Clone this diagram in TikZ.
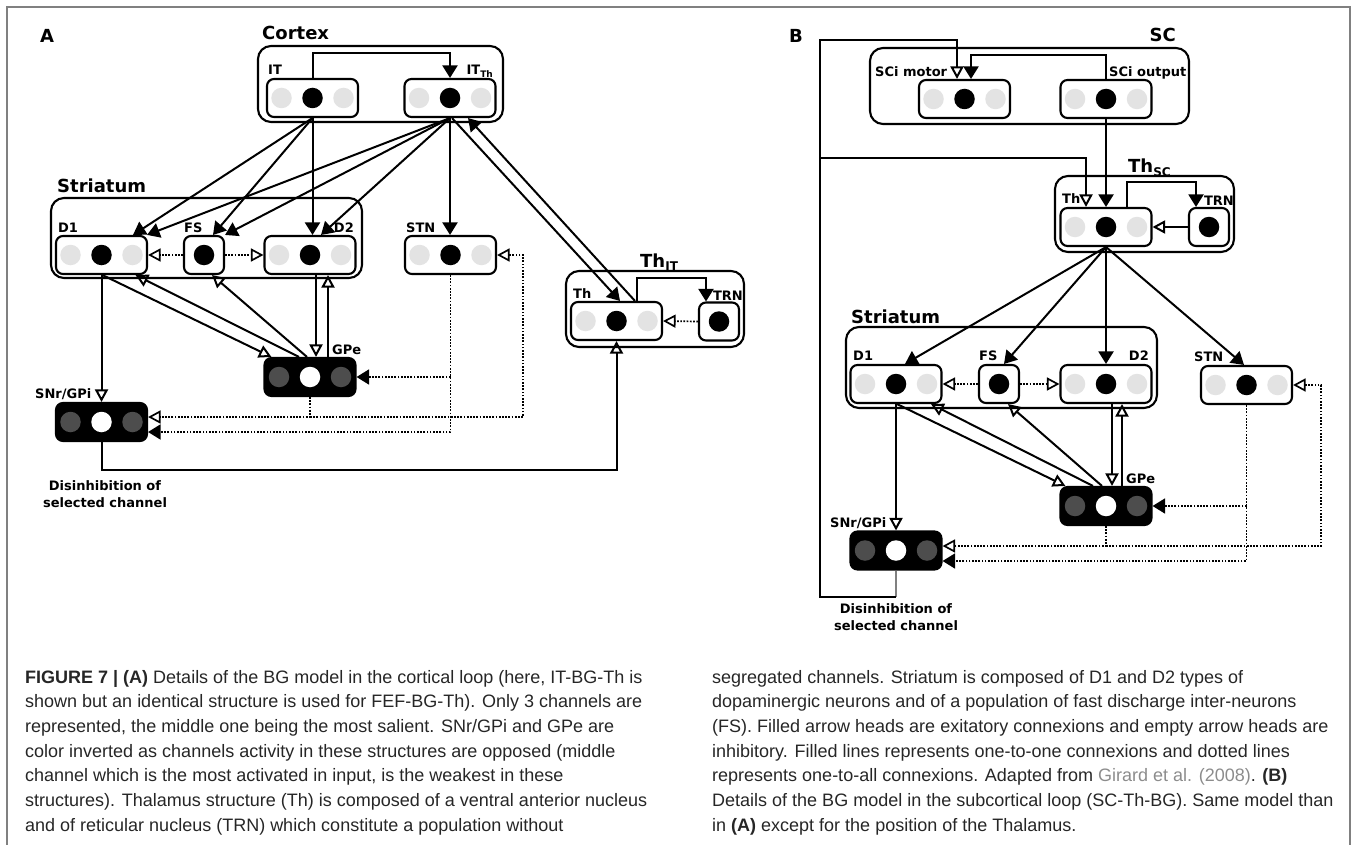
\documentclass[tikz,border=0pt]{standalone}
\usepackage{fontspec}
\setmainfont{Liberation Sans}
\newfontfamily\djfont{DejaVu Sans}
\usetikzlibrary{arrows.meta,calc}
\definecolor{lg}{HTML}{E3E3E3}
\definecolor{dg}{HTML}{4D4D4D}
\definecolor{captxt}{HTML}{262626}
\definecolor{lnk}{HTML}{8C8C8C}
\definecolor{frm}{HTML}{808080}
\newcommand\mkchans[4]{%
  \node[#2] (#1a) at ($(#1)+(-31,0)$) {};
  \node[#3] (#1b) at (#1) {};
  \node[#4] (#1c) at ($(#1)+(31,0)$) {};}
\tikzset{
  lab/.style={font=\djfont\bfseries\fontsize{13}{13}\selectfont, inner sep=0, anchor=base west},
  big/.style={font=\djfont\bfseries\fontsize{18}{18}\selectfont, inner sep=0, anchor=base west},
  grp/.style={draw, line width=2.1, rounded corners=13, inner sep=0},
  chbox/.style={draw, line width=2.1, rounded corners=7, fill=white, minimum height=38, minimum width=91, inner sep=0},
  selbox/.style={chbox, minimum width=40},
  invbox/.style={chbox, fill=black},
  lc/.style={circle, fill=lg, minimum size=20.5, inner sep=0},
  bc/.style={circle, fill=black, minimum size=20.5, inner sep=0},
  dc/.style={circle, fill=dg, minimum size=20.5, inner sep=0},
  wc/.style={circle, fill=white, minimum size=20.5, inner sep=0},
  conn/.style={line width=2},
  exc/.style={conn, -{Triangle[length=12.5,width=15]}},
  inh/.style={conn, -{Triangle[open,length=12.5,width=13]}},
  dots/.style={line width=1.7, dash pattern=on 1.7 off 1.5},
  captext/.style={font=\fontsize{18}{18}\selectfont, text=captxt, inner sep=0, anchor=base west},
}
\begin{document}
\begin{tikzpicture}[x=1pt,y=-1pt]
\useasboundingbox (0,0) rectangle (1356,845);
\draw[frm, line width=1.5] (7,845) -- (7,7) -- (1350,7) -- (1350,845);

% ================= Panel A =================
\node[big] (labA) at (40,43) {A};
\node[grp, minimum width=245, minimum height=76] (cortex) at (380.5,84) {};
\node[big] (cortexL) at (262,40) {Cortex};
\node[chbox] (IT) at (312.5,98) {};
\mkchans{IT}{lc}{bc}{lc}
\node[lab] (ITL) at (268,75) {IT};
\node[chbox] (ITTh) at (450,98) {};
\mkchans{ITTh}{lc}{bc}{lc}
\node[lab, anchor=base east] (ITThL) at (493,75) {IT{\fontsize{9}{9}\selectfont\raisebox{-2.5pt}{Th}}};

\node[grp, minimum width=311, minimum height=80] (striA) at (206.5,238) {};
\node[big] (striAL) at (57,193) {Striatum};
\node[chbox] (D1A) at (101.5,255) {};
\mkchans{D1A}{lc}{bc}{lc}
\node[lab] (D1AL) at (58,232) {D1};
\node[selbox] (FSA) at (204,255) {};
\node[bc] (FSAb) at (FSA) {};
\node[lab] (FSAL) at (184,232) {FS};
\node[chbox] (D2A) at (310,255) {};
\mkchans{D2A}{lc}{bc}{lc}
\node[lab, anchor=base east] (D2AL) at (354,232) {D2};
\node[chbox] (STNA) at (450.5,255) {};
\mkchans{STNA}{lc}{bc}{lc}
\node[lab] (STNAL) at (406,232) {STN};

\node[invbox] (GPeA) at (310,377) {};
\mkchans{GPeA}{dc}{wc}{dc}
\node[lab] (GPeAL) at (332,354) {GPe};
\node[invbox] (SNrA) at (101.5,422) {};
\mkchans{SNrA}{dc}{wc}{dc}
\node[lab] (SNrAL) at (35,398) {SNr/GPi};

\node[grp, minimum width=178, minimum height=76] (thgA) at (655,309) {};
\node[big] (thgAL) at (640,267) {Th{\fontsize{12}{12}\selectfont\raisebox{-3.5pt}{IT}}};
\node[chbox] (ThA) at (616.5,321) {};
\mkchans{ThA}{lc}{bc}{lc}
\node[lab] (ThAL) at (573,298) {Th};
\node[selbox] (TRNA) at (719,321.5) {};
\node[bc] (TRNAb) at (TRNA) {};
\node[lab, anchor=base east] (TRNAL) at (743,300) {TRN};

\node[lab, anchor=base] (disA1) at (105,490) {Disinhibition of};
\node[lab, anchor=base] (disA2) at (105,507) {selected channel};

% connectors A
\draw[exc] (IT.north) -- ++(0,-25) -| (ITTh.north);
\draw[exc] (IT.south) -- ($(D1A.north)+(31.5,0)$);
\draw[exc] (IT.south) -- ($(FSA.north)+(9,0)$);
\draw[exc] (IT.south) -- (IT.south |- D2A.north);
\draw[exc] (ITTh.south) -- ($(D1A.north east)+(-1,0)$);
\draw[exc] (ITTh.south) -- (FSA.north east);
\draw[exc] (ITTh.south) -- ($(D2A.north)+(11,0)$);
\draw[exc] (ITTh.south) -- (ITTh.south |- STNA.north);
\draw[exc] ($(ITTh.south)+(2,0)$) -- ($(ThA.north)+(3.5,0)$);
\draw[exc] ($(ThA.north)+(18.5,0)$) -- ($(ITTh.south)+(18,0)$);
\draw[exc] ($(ThA.north)+(20.5,0)$) -- ++(0,-23) -| ($(TRNA.north)+(-13,0)$);
\draw[inh,dots] (TRNA.west) -- (ThA.east);
\draw[inh,dots] (FSA.west) -- (D1A.east);
\draw[inh,dots] (FSA.east) -- (D2A.west);
\draw[inh] (D1A.south) -- (D1A.south |- SNrA.north);
\draw[inh] ($(D1A.south)+(1,0)$) -- ($(GPeA.north west)+(8,0)$);
\draw[inh] ($(GPeA.north)+(-11,0)$) -- ($(D1A.south)+(34,0)$);
\draw[inh] ($(GPeA.north)+(-3,0)$) -- ($(FSA.south)+(8,0)$);
\draw[inh] ($(D2A.south)+(6,0)$) -- ($(GPeA.north)+(6,0)$);
\draw[inh] ($(GPeA.north)+(18,0)$) -- ($(D2A.south)+(18,0)$);
\draw[exc,dots] (STNA.south) |- ($(SNrA.east)+(0,10)$);
\draw[exc,dots] (STNA.south |- GPeA.east) -- (GPeA.east);
\coordinate (gA) at ($(SNrA.east)+(0,-5)$);
\draw[inh,dots] (GPeA.south) |- (gA);
\draw[inh,dots] (GPeA.south |- gA) -- ++(213,0) |- (STNA.east);
\draw[inh] (SNrA.south) -- ++(0,28) -| (ThA.south);

% ================= Panel B =================
\node[big] (labB) at (789,43) {B};
\node[grp, minimum width=319, minimum height=76] (scg) at (1029.5,86) {};
\node[big, anchor=base east] (scgL) at (1176,42) {SC};
\node[chbox] (SCiM) at (964.5,99) {};
\mkchans{SCiM}{lc}{bc}{lc}
\node[lab] (SCiML) at (875,77) {SCi motor};
\node[chbox] (SCiO) at (1106,99) {};
\mkchans{SCiO}{lc}{bc}{lc}
\node[lab] (SCiOL) at (1109,77) {SCi output};

\node[grp, minimum width=179, minimum height=76] (thgB) at (1144.5,214) {};
\node[big] (thgBL) at (1128,173) {Th{\fontsize{12}{12}\selectfont\raisebox{-3.5pt}{SC}}};
\node[chbox] (ThB) at (1106,227) {};
\mkchans{ThB}{lc}{bc}{lc}
\node[lab] (ThBL) at (1062,204) {Th};
\node[selbox] (TRNB) at (1209,227) {};
\node[bc] (TRNBb) at (TRNB) {};
\node[lab, anchor=base east] (TRNBL) at (1234,205) {TRN};

\node[grp, minimum width=311, minimum height=81] (striB) at (1001.5,367.5) {};
\node[big] (striBL) at (851,323) {Striatum};
\node[chbox] (D1B) at (896,384) {};
\mkchans{D1B}{lc}{bc}{lc}
\node[lab] (D1BL) at (853,360) {D1};
\node[selbox] (FSB) at (999,384) {};
\node[bc] (FSBb) at (FSB) {};
\node[lab] (FSBL) at (979,360) {FS};
\node[chbox] (D2B) at (1106,384) {};
\mkchans{D2B}{lc}{bc}{lc}
\node[lab, anchor=base east] (D2BL) at (1149,360) {D2};
\node[chbox] (STNB) at (1246.5,385) {};
\mkchans{STNB}{lc}{bc}{lc}
\node[lab] (STNBL) at (1194,361) {STN};

\node[invbox] (GPeB) at (1106,506) {};
\mkchans{GPeB}{dc}{wc}{dc}
\node[lab] (GPeBL) at (1126,483) {GPe};
\node[invbox] (SNrB) at (896,550.5) {};
\mkchans{SNrB}{dc}{wc}{dc}
\node[lab] (SNrBL) at (830,527) {SNr/GPi};

\node[lab, anchor=base] (disB1) at (896,613) {Disinhibition of};
\node[lab, anchor=base] (disB2) at (896,630) {selected channel};

% connectors B
\draw[exc] (SCiO.north) -- ++(0,-24) -| ($(SCiM.north)+(6.5,0)$);
\draw[exc] (SCiO.south) -- (ThB.north);
\coordinate (fbTop) at (820,40);
\coordinate (fbMid) at (820,158);
\draw[conn, frm] (SNrB.south) -- ++(0,26) coordinate (fbLow);
\draw[inh] (fbLow) -| (fbTop) -| ($(SCiM.north)+(-7.5,0)$);
\draw[inh] (fbMid) -| ($(ThB.north)+(-20,0)$);
\draw[exc] ($(ThB.north)+(21,0)$) -- ++(0,-25) -| ($(TRNB.north)+(-13,0)$);
\draw[inh] (TRNB.west) -- (ThB.east);
\draw[exc] (ThB.south) -- ($(D1B.north)+(9,0)$);
\draw[exc] (ThB.south) -- ($(FSB.north)+(5,0)$);
\draw[exc] (ThB.south) -- (D2B.north);
\draw[exc] (ThB.south) -- ($(STNB.north)+(-2.5,0)$);
\draw[inh,dots] (FSB.west) -- (D1B.east);
\draw[inh,dots] (FSB.east) -- (D2B.west);
\draw[inh] (D1B.south) -- (D1B.south |- SNrB.north);
\draw[inh] ($(D1B.south)+(1,0)$) -- ($(GPeB.north west)+(6,0)$);
\draw[inh] ($(GPeB.north)+(-13,0)$) -- ($(D1B.south)+(35,0)$);
\draw[inh] ($(GPeB.north)+(-4,0)$) -- ($(FSB.south)+(9,0)$);
\draw[inh] ($(D2B.south)+(6,0)$) -- ($(GPeB.north)+(6,0)$);
\draw[inh] ($(GPeB.north)+(16,0)$) -- ($(D2B.south)+(16,0)$);
\draw[exc,dots] (STNB.south) |- ($(SNrB.east)+(0,10.5)$);
\draw[exc,dots] (STNB.south |- GPeB.east) -- (GPeB.east);
\coordinate (gB) at ($(SNrB.east)+(0,-4.5)$);
\draw[inh,dots] (GPeB.south) |- (gB);
\draw[inh,dots] (GPeB.south |- gB) -- ++(215,0) |- (STNB.east);

% ================= Caption =================
\node[captext] (cl1) at (25,683) {\textbf{FIGURE 7 | (A)} Details of the BG model in the cortical loop (here, IT-BG-Th is};
\node[captext] (cl2) at (25,707.7) {shown but an identical structure is used for FEF-BG-Th). Only 3 channels are};
\node[captext] (cl3) at (25,732.4) {represented, the middle one being the most salient. SNr/GPi and GPe are};
\node[captext] (cl4) at (25,757.1) {color inverted as channels activity in these structures are opposed (middle};
\node[captext] (cl5) at (25,781.8) {channel which is the most activated in input, is the weakest in these};
\node[captext] (cl6) at (25,806.5) {structures). Thalamus structure (Th) is composed of a ventral anterior nucleus};
\node[captext] (cl7) at (25,831.2) {and of reticular nucleus (TRN) which constitute a population without};
\node[captext] (cr1) at (712,683) {segregated channels. Striatum is composed of D1 and D2 types of};
\node[captext] (cr2) at (712,707.7) {dopaminergic neurons and of a population of fast discharge inter-neurons};
\node[captext] (cr3) at (712,732.4) {(FS). Filled arrow heads are exitatory connexions and empty arrow heads are};
\node[captext] (cr4) at (712,757.1) {inhibitory. Filled lines represents one-to-one connexions and dotted lines};
\node[captext] (cr5) at (712,781.8) {represents one-to-all connexions. Adapted from \textcolor{lnk}{Girard et al. (2008)}. \textbf{(B)}};
\node[captext] (cr6) at (712,806.5) {Details of the BG model in the subcortical loop (SC-Th-BG). Same model than};
\node[captext] (cr7) at (712,831.2) {in \textbf{(A)} except for the position of the Thalamus.};
\end{tikzpicture}
\end{document}
